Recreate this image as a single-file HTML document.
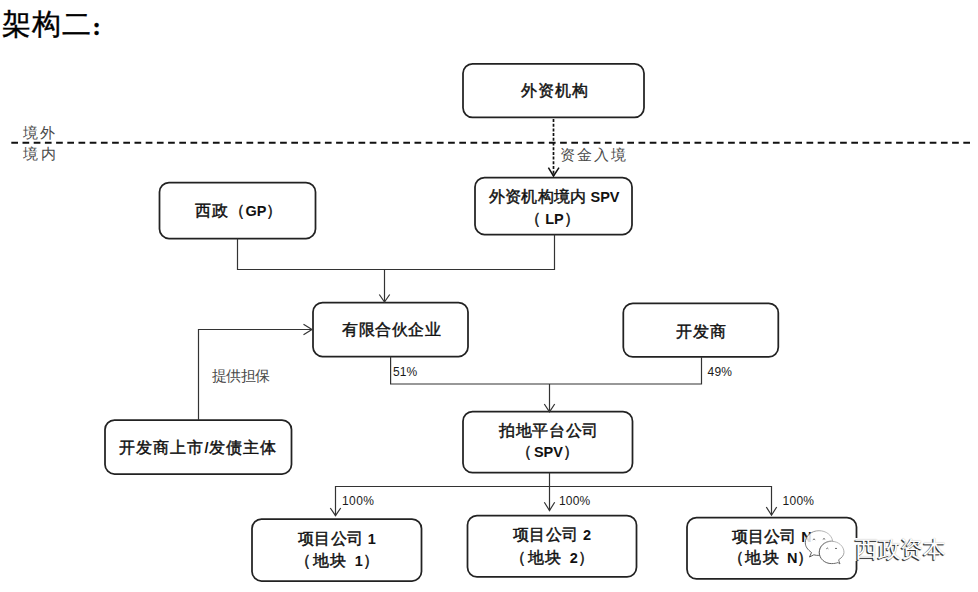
<!DOCTYPE html>
<html><head><meta charset="utf-8">
<style>
html,body{margin:0;padding:0;background:#fff;width:978px;height:592px;overflow:hidden;position:relative}
.t{position:absolute;white-space:nowrap;font-family:"Liberation Sans",sans-serif;line-height:1;color:#111;text-spacing-trim:space-all}
.b{font-weight:400;color:#111;-webkit-text-stroke:0.45px #111}
.b i{font-style:normal;font-weight:bold;font-size:14.5px;letter-spacing:0;-webkit-text-stroke:0}
.g{color:#4a4a4a;font-weight:400}
.p{color:#1a1a1a}
svg{position:absolute;left:0;top:0}
</style></head><body>
<svg width="978" height="592" viewBox="0 0 978 592">
<g fill="none" stroke="#222" stroke-width="1.75">
<rect x="463" y="63.8" width="181" height="53.5" rx="9.5"/>
<rect x="475" y="177.5" width="157" height="57" rx="9.5"/>
<rect x="159.5" y="182.5" width="156" height="56" rx="9.5"/>
<rect x="313" y="302.5" width="155" height="54" rx="9.5"/>
<rect x="623.3" y="303.3" width="155" height="53.5" rx="9.5"/>
<rect x="105" y="420" width="186.5" height="54" rx="9.5"/>
<rect x="463" y="411.7" width="169.5" height="61" rx="9.5"/>
<rect x="252" y="519" width="169.5" height="62" rx="9.5"/>
<rect x="467.5" y="515.5" width="169" height="61.3" rx="9.5"/>
<rect x="687" y="517.5" width="169.5" height="61.3" rx="9.5"/>
</g>
<line x1="11.3" y1="142.7" x2="970" y2="142.7" stroke="#111" stroke-width="2" stroke-dasharray="6.7 4.5"/>
<g fill="none" stroke="#111" stroke-width="1.5">
<line x1="553.5" y1="119" x2="553.5" y2="176" stroke-dasharray="3 1.7" stroke-width="1.7"/>
<polyline points="548.4,167.6 553.5,176 559,167.6"/>
</g>
<g fill="none" stroke="#333" stroke-width="1.2">
<polyline points="237.5,238.5 237.5,269.5 554.5,269.5 554.5,234.5"/>
<line x1="384.5" y1="269.5" x2="384.5" y2="302"/>
<polyline points="379.3,294.5 384.5,302 389.7,294.5"/>
<polyline points="198.5,420 198.5,329.5 312,329.5"/>
<polyline points="303.5,324.2 312,329.5 303.5,334.8"/>
<polyline points="390.6,356.5 390.6,384 701.5,384 701.5,357"/>
<line x1="549.5" y1="384" x2="549.5" y2="411.8"/>
<polyline points="544.3,404 549.5,411.8 554.7,404"/>
<polyline points="335.5,515.7 335.5,486.5 771.5,486.5 771.5,515.2"/>
<line x1="549.5" y1="472.5" x2="549.5" y2="510.5"/>
<polyline points="330.3,508 335.5,515.7 340.7,508"/>
<polyline points="544.3,502.2 549.5,510.5 554.7,502.2"/>
<polyline points="766.3,507 771.5,515.2 776.7,507"/>
</g>
</svg>
<div class="t " id="title" style="left:2.00px;top:9.70px;font-size:29px;letter-spacing:1.20px;color:#000;-webkit-text-stroke:0.4px #000;">架构二<span style="font-family:'Liberation Serif',serif;font-weight:bold;font-size:25px;position:relative;top:1px">:</span></div>
<div class="t g" id="jw" style="left:23.00px;top:124.85px;font-size:15px;letter-spacing:1.80px;">境外</div>
<div class="t g" id="jn" style="left:23.00px;top:145.75px;font-size:15px;letter-spacing:2.70px;">境内</div>
<div class="t g" id="zj" style="left:560.40px;top:146.85px;font-size:15px;letter-spacing:1.83px;">资金入境</div>
<div class="t g" id="db" style="left:212.00px;top:367.50px;font-size:15px;letter-spacing:-0.60px;">提供担保</div>
<div class="t b" id="b1" style="left:521.00px;top:83.20px;font-size:16px;letter-spacing:0.90px;">外资机构</div>
<div class="t b" id="b2a" style="left:489.20px;top:188.80px;font-size:16px;letter-spacing:0.12px;">外资机构境内 <i>SPV</i></div>
<div class="t b" id="b2b" style="left:525.40px;top:210.95px;font-size:16px;letter-spacing:3.78px;">（<i>LP</i>）</div>
<div class="t b" id="b3" style="left:195.40px;top:203.00px;font-size:16px;letter-spacing:0.67px;">西政（<i>GP</i>）</div>
<div class="t b" id="b4" style="left:342.00px;top:322.25px;font-size:16px;letter-spacing:0.59px;">有限合伙企业</div>
<div class="t b" id="b5" style="left:676.00px;top:323.50px;font-size:16px;letter-spacing:0.90px;">开发商</div>
<div class="t b" id="b6" style="left:119.00px;top:440.15px;font-size:16px;letter-spacing:1.10px;">开发商上市<i>/</i>发债主体</div>
<div class="t b" id="b7a" style="left:499.10px;top:423.30px;font-size:16px;letter-spacing:0.61px;">拍地平台公司</div>
<div class="t b" id="b7b" style="left:516.00px;top:444.40px;font-size:16px;letter-spacing:1.93px;">（<i>SPV</i>）</div>
<div class="t b" id="b8a" style="left:298.00px;top:531.45px;font-size:16px;letter-spacing:0.27px;">项目公司 <i>1</i></div>
<div class="t b" id="b8b" style="left:294.70px;top:553.45px;font-size:16px;letter-spacing:1.89px;">（地块 <i>1</i>）</div>
<div class="t b" id="b9a" style="left:512.80px;top:527.45px;font-size:16px;letter-spacing:0.36px;">项目公司 <i>2</i></div>
<div class="t b" id="b9b" style="left:509.70px;top:549.60px;font-size:16px;letter-spacing:1.89px;">（地块 <i>2</i>）</div>
<div class="t b" id="b10a" style="left:731.70px;top:528.55px;font-size:16px;letter-spacing:0.23px;">项目公司 <i>N</i></div>
<div class="t b" id="b10b" style="left:727.50px;top:550.40px;font-size:16px;letter-spacing:1.76px;">（地块 <i>N</i>）</div>
<div class="t p" id="p51" style="left:393.00px;top:366.20px;font-size:12px;letter-spacing:0.09px;">51%</div>
<div class="t p" id="p49" style="left:707.50px;top:366.00px;font-size:12px;letter-spacing:0.23px;">49%</div>
<div class="t p" id="p1" style="left:342.00px;top:494.80px;font-size:12px;letter-spacing:0.39px;">100%</div>
<div class="t p" id="p2" style="left:559.00px;top:494.80px;font-size:12px;letter-spacing:0.15px;">100%</div>
<div class="t p" id="p3" style="left:782.60px;top:494.80px;font-size:12px;letter-spacing:0.24px;">100%</div>
<div class="t " id="wm" style="left:855.00px;top:538.25px;font-size:23px;letter-spacing:-0.48px;color:#fff;text-shadow:-1px 1px 0 #333,-1px 1px 1px #666,0 0 1px #aaa;background:#fff;">西政资本</div>
<svg width="978" height="592" viewBox="0 0 978 592" style="position:absolute;left:0;top:0">
<defs><linearGradient id="wg" x1="0" y1="1" x2="1" y2="0"><stop offset="0" stop-color="#3a3a3a"/><stop offset="0.55" stop-color="#777"/><stop offset="1" stop-color="#d0d0d0"/></linearGradient></defs>
<g id="wechat" stroke="url(#wg)" stroke-width="0.9" fill="#fff" fill-opacity="0.85">
<path d="M809.5,557 L811.5,552.5 C807.5,549.5 805.3,546.5 805.3,542.8 C805.3,535.8 811.5,530.7 819,530.7 C826,530.7 831.8,535 832.6,541 C826,540.5 819.3,545.5 819.3,552 C819.3,553.3 819.5,554.3 819.8,555.3 C817.5,555.6 815.5,555.3 813.8,554.8 Z"/>
<path d="M840,564 L838.6,559.8 C842,557.7 844,555 844,552.3 C844,546.3 838.5,541.3 831.6,541.3 C824.7,541.3 819.3,546.3 819.3,552.5 C819.3,558.7 824.7,563.6 831.6,563.6 C834.2,563.6 836.4,563.2 838,562.5 Z"/>
</g>
<g fill="none" stroke="#555" stroke-width="0.9"><path d="M812.8,539.8 q1.2,-1.8 2.4,0"/><path d="M822.8,539.4 q1.2,-1.8 2.4,0"/><path d="M826.3,548.8 q1,-1.5 2,0"/><path d="M835,548.8 q1,-1.5 2,0"/></g>
</svg>

</body></html>
